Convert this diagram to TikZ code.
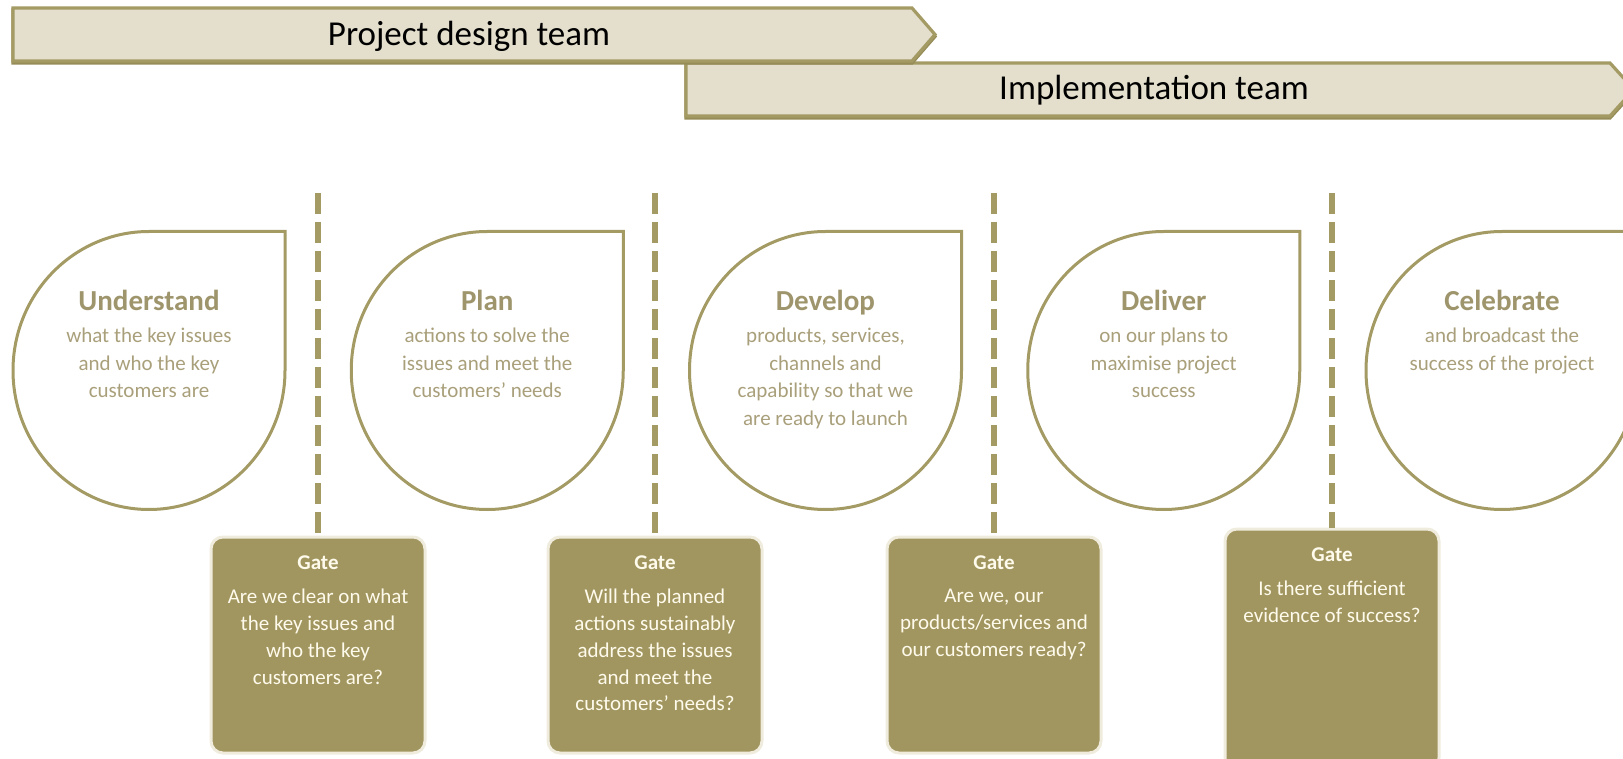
\documentclass[tikz,border=0pt]{standalone}
\usepackage{fontspec}
\setmainfont{Carlito}
\definecolor{lineolive}{HTML}{A39A64}
\definecolor{shadeolive}{HTML}{958C58}
\definecolor{bannerfill}{HTML}{E4DFCC}
\definecolor{gatefill}{HTML}{A29660}
\definecolor{gatehalo}{HTML}{F0ECDD}
\definecolor{gateink}{HTML}{FFFBEC}
\definecolor{dropink}{HTML}{A9A07B}
\definecolor{droptitleink}{HTML}{9E956C}
\begin{document}
\begin{tikzpicture}[x=0.5pt,y=-0.5pt,
  bannerbody/.style={fill=bannerfill, draw=lineolive, line width=1.6pt, line join=miter},
  bannershade/.style={fill=shadeolive, draw=shadeolive, line width=1.6pt, line join=miter},
  bannertext/.style={font=\fontsize{17.5}{21}\selectfont, text=black, inner sep=0pt},
  drop/.style={draw=lineolive, line width=1.5pt, fill=white},
  droptitle/.style={font=\bfseries\fontsize{14.5}{17}\selectfont, text=droptitleink, inner sep=0pt, anchor=base},
  droptext/.style={font=\fontsize{10.5}{13.75}\selectfont, text=dropink, align=center, inner sep=0pt, anchor=north},
  gatebox/.style={rounded corners=6pt, fill=gatefill, draw=gatehalo, line width=1.5pt, minimum width=107pt, inner sep=0pt},
  gatetitle/.style={font=\bfseries\fontsize{10.5}{13}\selectfont, text=gateink, inner sep=0pt, anchor=base},
  gatetext/.style={font=\fontsize{10.5}{13.35}\selectfont, text=gateink, align=center, inner sep=0pt, anchor=north},
  gatedash/.style={draw=lineolive, line width=3.2pt, dash pattern=on 10.5pt off 4pt}
]
\useasboundingbox (0,0) rectangle (1623,759);
\clip (0,0) rectangle (1623,759);

% team banners
\begin{scope}[yshift=-1pt]
  \path[bannershade] (686,63) -- (1610,63) -- (1634,89.5) -- (1610,116) -- (686,116) -- cycle;
\end{scope}
\path[bannerbody] (686,63) -- (1610,63) -- (1634,89.5) -- (1610,116) -- (686,116) -- cycle;
\begin{scope}[yshift=-1pt]
  \path[bannershade] (13,8) -- (912,8) -- (935,34.5) -- (912,61) -- (13,61) -- cycle;
\end{scope}
\path[bannerbody] (13,8) -- (912,8) -- (935,34.5) -- (912,61) -- (13,61) -- cycle;
\node[bannertext] (design) at (469,36) {Project design team};
\node[bannertext] (impl) at (1154,90) {Implementation team};

% stage drops: circle with a square top-right corner
\foreach \cx in {149,487.25,825.5,1163.75,1502}{
  \draw[drop] (\cx,231.5) -- (\cx+136,231.5) -- (\cx+136,370.5)
    arc[start angle=0, end angle=270, x radius=136, y radius=139] -- cycle;
}

\node[droptitle] (t1) at (149,311) {Understand};
\node[droptext] (b1) at (149,328) {what the key issues\\and who the key\\customers are};
\node[droptitle] (t2) at (487.25,311) {Plan};
\node[droptext] (b2) at (487.25,328) {actions to solve the\\issues and meet the\\customers' needs};
\node[droptitle] (t3) at (825.5,311) {Develop};
\node[droptext] (b3) at (825.5,328) {products, services,\\channels and\\capability so that we\\are ready to launch};
\node[droptitle] (t4) at (1163.75,311) {Deliver};
\node[droptext] (b4) at (1163.75,328) {on our plans to\\maximise project\\success};
\node[droptitle] (t5) at (1502,311) {Celebrate};
\node[droptext] (b5) at (1502,328) {and broadcast the\\success of the project};

% gate boxes
\node[gatebox, minimum height=108pt] (g1) at (318,645) {};
\node[gatebox, minimum height=108pt] (g2) at (655,645) {};
\node[gatebox, minimum height=108pt] (g3) at (994,645) {};
\node[gatebox, minimum height=120.5pt] (g4) at (1332,649.5) {};

% dashed gate lines
\coordinate (d1) at (318,193);
\coordinate (d2) at (655,193);
\coordinate (d3) at (994,193);
\coordinate (d4) at (1332,193);
\draw[gatedash] (d1) -- (g1.north);
\draw[gatedash] (d2) -- (g2.north);
\draw[gatedash] (d3) -- (g3.north);
\draw[gatedash] (d4) -- (g4.north);

% gate questions
\node[gatetitle] (gt1) at (318,569.5) {Gate};
\node[gatetext] (gq1) at (318,589) {Are we clear on what\\the key issues and\\who the key\\customers are?};
\node[gatetitle] (gt2) at (655,569.5) {Gate};
\node[gatetext] (gq2) at (655,589) {Will the planned\\actions sustainably\\address the issues\\and meet the\\customers' needs?};
\node[gatetitle] (gt3) at (994,569.5) {Gate};
\node[gatetext] (gq3) at (994,589) {Are we, our\\products/services and\\our customers ready?};
\node[gatetitle] (gt4) at (1332,561.5) {Gate};
\node[gatetext] (gq4) at (1332,581) {Is there sufficient\\evidence of success?};
\end{tikzpicture}
\end{document}
